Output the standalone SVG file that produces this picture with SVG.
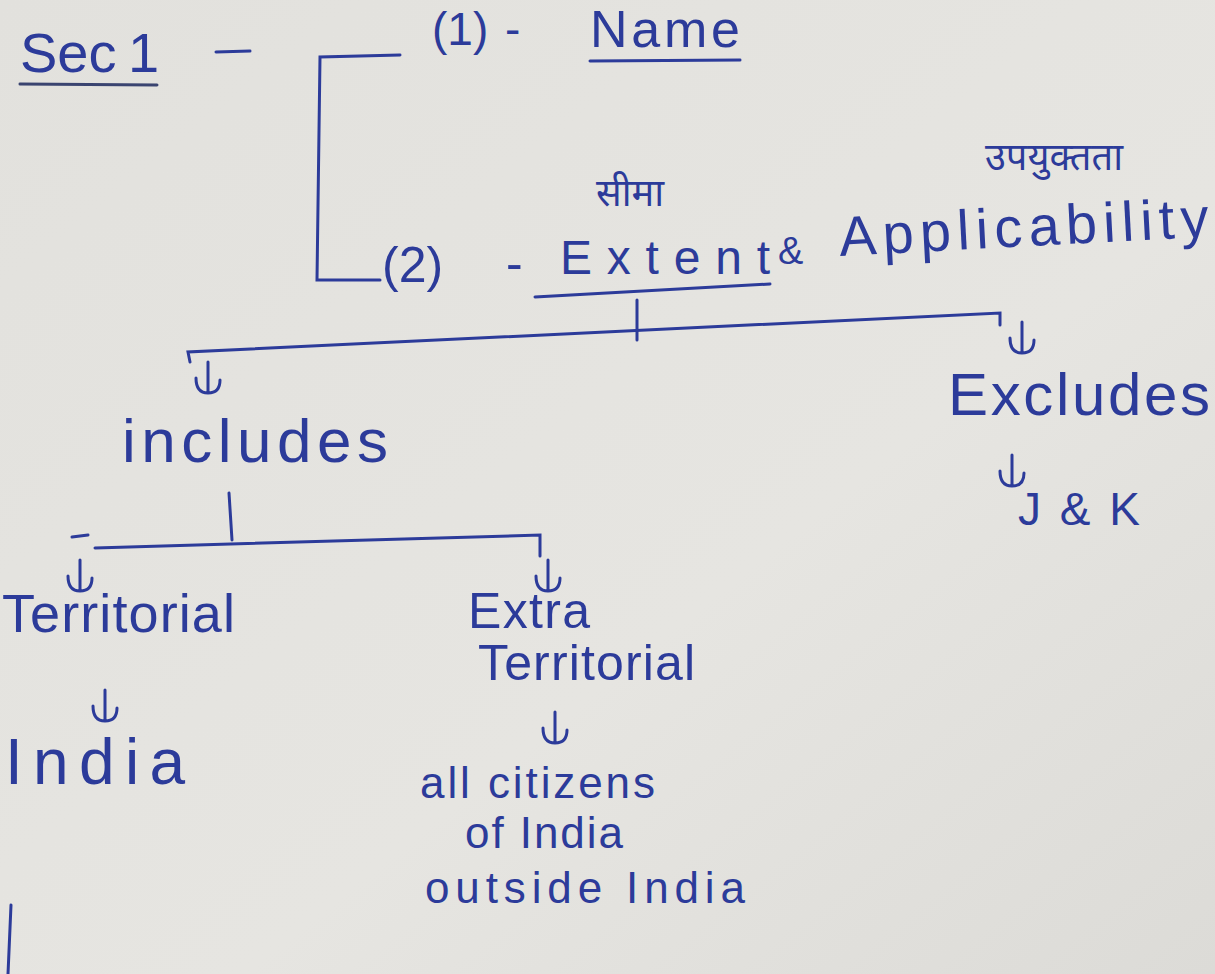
<svg xmlns="http://www.w3.org/2000/svg" xmlns:xlink="http://www.w3.org/1999/xlink" width="1215" height="974" viewBox="0 0 1215 974">
<style>
.t{font-family:"Liberation Sans","Open Sans",sans-serif;fill:#2c3b9a}
.h{font-family:"Noto Sans Devanagari","Noto Sans","Noto Sans CJK SC",sans-serif;fill:#2c3b9a}
.ln{stroke:#2c3b9a;stroke-width:3;fill:none;stroke-linecap:round}
.dk{stroke:#3a4470;stroke-width:3;fill:none;stroke-linecap:round}
</style>
<defs>
<linearGradient id="bg" x1="0" y1="0" x2="1" y2="1">
<stop offset="0" stop-color="#e2e1dd"/>
<stop offset="0.6" stop-color="#e6e5e1"/>
<stop offset="1" stop-color="#dcdbd7"/>
</linearGradient>
<path id="arr" d="M0,0 V30 M-12,16 Q-12,31 0,31 Q12,31 12,18" stroke="#2c3b9a" stroke-width="3" fill="none" stroke-linecap="round"/>
</defs>
<rect width="1215" height="974" fill="url(#bg)"/>

<g id="sec1">
<text class="t" x="20" y="72" font-size="56">Sec</text>
<text class="t" x="128" y="72" font-size="56">1</text>
<path class="dk" d="M20 84 L157 85"/>
<path class="ln" d="M216 52 L250 51"/>
</g>

<g id="bracket">
<path class="ln" d="M400 55 L320 57 L317 280 L380 280"/>
</g>

<g id="name">
<text class="t" x="432" y="45" font-size="46">(1)</text>
<text class="t" x="505" y="45" font-size="46">-</text>
<text class="t" x="590" y="47" font-size="52" textLength="150" lengthAdjust="spacing">Name</text>
<path class="ln" d="M590 61 L740 60"/>
</g>

<g id="extent">
<text class="t" x="382" y="282" font-size="50">(2)</text>
<text class="t" x="506" y="280" font-size="50">-</text>
<text class="t" x="560" y="274" font-size="48" textLength="210" lengthAdjust="spacing">Extent</text>
<text class="t" x="778" y="264" font-size="38">&amp;</text>
<text class="t" x="840" y="256" font-size="56" textLength="370" lengthAdjust="spacing" transform="rotate(-3 840 256)">Applicability</text>
<text class="h" x="596" y="206" font-size="38">सीमा</text>
<text class="h" x="985" y="170" font-size="38">उपयुक्तता</text>
<path class="ln" d="M535 297 L770 284"/>
</g>

<g id="includes">
<text class="t" x="122" y="462" font-size="62" textLength="266" lengthAdjust="spacing">includes</text>
</g>

<g id="excludes">
<text class="t" x="948" y="415" font-size="60" textLength="262" lengthAdjust="spacing">Excludes</text>
</g>

<g id="jk">
<text class="t" x="1018" y="525" font-size="46" textLength="122" lengthAdjust="spacing">J &amp; K</text>
</g>

<g id="territorial">
<text class="t" x="2" y="632" font-size="54" textLength="233" lengthAdjust="spacing">Territorial</text>
</g>

<g id="india">
<text class="t" x="5" y="784" font-size="64" textLength="180" lengthAdjust="spacing">India</text>
</g>

<g id="extraterritorial">
<text class="t" x="468" y="628" font-size="50" textLength="122" lengthAdjust="spacing">Extra</text>
<text class="t" x="478" y="680" font-size="50" textLength="217" lengthAdjust="spacing">Territorial</text>
</g>

<g id="citizens">
<text class="t" x="420" y="798" font-size="44" textLength="235" lengthAdjust="spacing">all citizens</text>
<text class="t" x="465" y="848" font-size="44" textLength="158" lengthAdjust="spacing">of India</text>
<text class="t" x="425" y="903" font-size="44" textLength="320" lengthAdjust="spacing">outside India</text>
</g>

<g id="connectors">
<path class="ln" d="M637 300 L637 340"/>
<path class="ln" d="M190 362 L188 352 L1000 313 L1000 325"/>
<use href="#arr" x="208" y="362"/>
<use href="#arr" x="1022" y="322"/>
<use href="#arr" x="1012" y="455"/>
<path class="ln" d="M229 493 L232 540"/>
<path class="ln" d="M72 537 L88 535"/>
<path class="ln" d="M95 548 L540 535 L540 556"/>
<use href="#arr" x="80" y="560"/>
<use href="#arr" x="548" y="560"/>
<use href="#arr" x="105" y="690"/>
<use href="#arr" x="555" y="712"/>
<path class="ln" d="M11 905 L8 974"/>
</g>
</svg>
